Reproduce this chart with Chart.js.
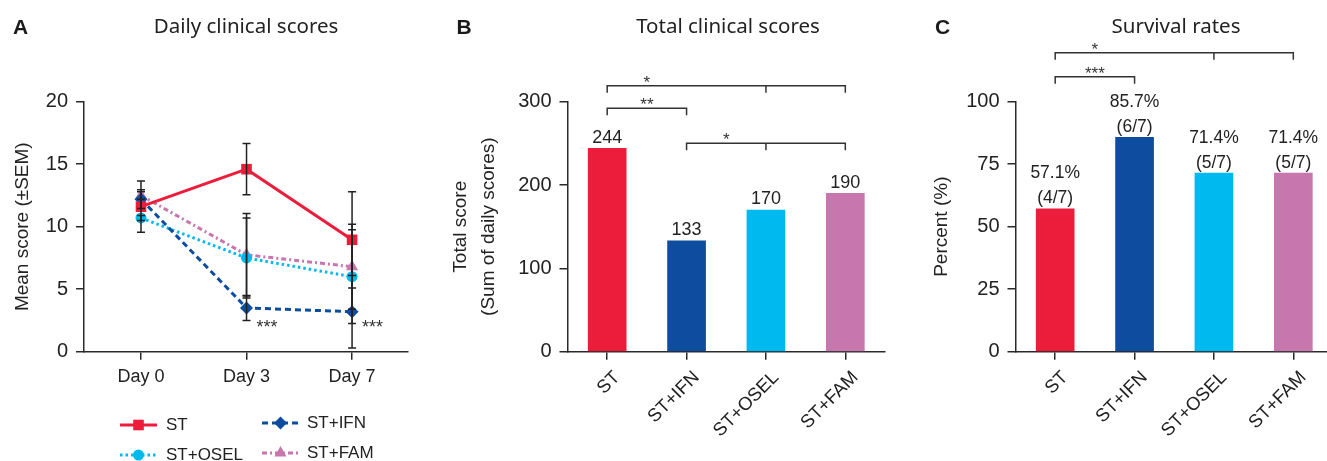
<!DOCTYPE html>
<html><head><meta charset="utf-8">
<script src="https://cdn.jsdelivr.net/npm/chart.js@4.4.1/dist/chart.umd.min.js"></script>
<style>
html,body{margin:0;padding:0;background:#fff;overflow:hidden;width:1327px;height:461px;position:relative;}
canvas{position:absolute;top:0;}
#cA{left:0} #cB{left:440px} #cC{left:890px}
</style></head><body>
<canvas id="cA" width="440" height="461"></canvas>
<canvas id="cB" width="450" height="461"></canvas>
<canvas id="cC" width="445" height="461"></canvas>
<script>
// ---------- data ----------
const days = ['Day 0', 'Day 3', 'Day 7'];
const groups = ['ST', 'ST+IFN', 'ST+OSEL', 'ST+FAM'];
const stMean = [11.6, 14.6, 8.95];
const stSem = [2.05, 2.05, 3.85];
const ifnMean = [12.2, 3.5, 3.2];
const ifnSem = [0.75, 1.0, 2.9];
const oselMean = [10.7, 7.5, 6.0];
const oselSem = [0.2, 3.2, 3.75];
const famMean = [12.5, 7.75, 6.8];
const famSem = [0.3, 3.3, 3.4];
const dailyStars = ['', '***', '***'];
const dailyTicks = [0, 5, 10, 15, 20];
const totalScores = [244, 133, 170, 190];
const totalTicks = [0, 100, 200, 300];
const survivalPct = [57.1, 85.7, 71.4, 71.4];
const survivalFrac = ['(4/7)', '(6/7)', '(5/7)', '(5/7)'];
const survivalTicks = [0, 25, 50, 75, 100];
const totalBrackets = [
  {from: 0, to: 3, mids: [2], y: 319, label: '*'},
  {from: 0, to: 1, mids: [], y: 292, label: '**'},
  {from: 1, to: 3, mids: [2], y: 250, label: '*'}
];
const survivalBrackets = [
  {from: 0, to: 3, mids: [2], y: 119.6, label: '*'},
  {from: 0, to: 1, mids: [], y: 110, label: '***'}
];
const colors = ['#EC1C3B', '#0D4C9F', '#00BAEF', '#C776AE'];

// ---------- styling helpers ----------
const TXT = '#222';
const AX = '#2a2a2a';
const SANS = 'Liberation Sans';

function drawMarker(ctx, style, r, x, y, color) {
  ctx.save();
  ctx.fillStyle = color;
  ctx.beginPath();
  if (style === 'rect') {
    const s = Math.SQRT1_2 * r;
    ctx.rect(x - s, y - s, 2 * s, 2 * s);
  } else if (style === 'rectRot') {
    ctx.moveTo(x, y - r); ctx.lineTo(x + r, y); ctx.lineTo(x, y + r); ctx.lineTo(x - r, y); ctx.closePath();
  } else if (style === 'triangle') {
    ctx.moveTo(x, y - r);
    ctx.lineTo(x + r * Math.sin(2 * Math.PI / 3), y - r * Math.cos(2 * Math.PI / 3));
    ctx.lineTo(x + r * Math.sin(4 * Math.PI / 3), y - r * Math.cos(4 * Math.PI / 3));
    ctx.closePath();
  } else {
    ctx.arc(x, y, r, 0, Math.PI * 2);
  }
  ctx.fill();
  ctx.restore();
}

const headerPlugin = {
  id: 'header',
  afterDraw(chart, args, opts) {
    const ctx = chart.ctx;
    ctx.save();
    ctx.fillStyle = '#1a1a1a';
    ctx.textBaseline = 'alphabetic';
    ctx.textAlign = 'left';
    ctx.font = 'bold 21px "Liberation Sans"';
    ctx.fillText(opts.letter, opts.letterX, 33.5);
    ctx.font = '20.5px "Noto Sans"';
    ctx.textAlign = 'center';
    ctx.fillStyle = '#222';
    ctx.fillText(opts.title, opts.titleX, 33);
    ctx.restore();
  }
};

function yAxis(ticksArr, max, titleText, titleFont, titlePad, width) {
  return {
    min: 0, max: max,
    afterBuildTicks: s => { s.ticks = ticksArr.map(v => ({value: v})); },
    ticks: {color: TXT, font: {family: SANS, size: 20}, padding: 8},
    grid: {drawOnChartArea: false, tickLength: 8, color: AX, lineWidth: 1.5},
    border: {color: AX, width: 1.5},
    title: {display: true, text: titleText, color: TXT, font: titleFont, padding: {top: titlePad, bottom: 0}},
    afterFit: s => { s.width = width; }
  };
}

function xCatAxis() {
  return {
    ticks: {color: TXT, font: {family: SANS, size: 18.5}, minRotation: 45, maxRotation: 45, padding: 7, labelOffset: 10, autoSkip: false},
    grid: {drawOnChartArea: false, tickLength: 8, color: AX, lineWidth: 1.5, offset: false},
    border: {color: AX, width: 1.5},
    afterFit: s => { s.height = 461 - 351.7; }
  };
}

// ---------- Panel A ----------
const lineDefs = [
  {label: 'ST', mean: stMean, sem: stSem, style: 'rect', r: 7.5, dash: []},
  {label: 'ST+IFN', mean: ifnMean, sem: ifnSem, style: 'rectRot', r: 6.5, dash: [6, 4]},
  {label: 'ST+OSEL', mean: oselMean, sem: oselSem, style: 'circle', r: 5.5, dash: [2.5, 3]},
  {label: 'ST+FAM', mean: famMean, sem: famSem, style: 'triangle', r: 7, dash: [5, 3, 2, 3]}
];

const errorBarPlugin = {
  id: 'errorBars',
  afterDatasetsDraw(chart) {
    const ctx = chart.ctx, ys = chart.scales.y;
    ctx.save();
    ctx.strokeStyle = '#222';
    ctx.lineWidth = 1.5;
    chart.data.datasets.forEach((ds, di) => {
      const meta = chart.getDatasetMeta(di);
      meta.data.forEach((pt, i) => {
        const m = ds.data[i].y, s = ds.sem[i];
        const x = pt.x;
        const y1 = ys.getPixelForValue(m + s), y2 = ys.getPixelForValue(m - s);
        ctx.beginPath();
        ctx.moveTo(x, y1); ctx.lineTo(x, y2);
        ctx.moveTo(x - 4, y1); ctx.lineTo(x + 4, y1);
        ctx.moveTo(x - 4, y2); ctx.lineTo(x + 4, y2);
        ctx.stroke();
      });
    });
    // significance stars next to ST+IFN
    const meta = chart.getDatasetMeta(1);
    ctx.fillStyle = '#333';
    ctx.font = '18px "Liberation Sans"';
    ctx.textAlign = 'left';
    ctx.textBaseline = 'alphabetic';
    meta.data.forEach((pt, i) => {
      if (dailyStars[i]) ctx.fillText(dailyStars[i], pt.x + 10, ys.getPixelForValue(0) - 19);
    });
    ctx.restore();
  }
};

const legendPos = [
  {x: 120, y: 425, tx: 166},
  {x: 262, y: 423, tx: 307},
  {x: 120, y: 455, tx: 166},
  {x: 262, y: 453, tx: 307}
];
const lineLegendPlugin = {
  id: 'lineLegend',
  afterDraw(chart) {
    const ctx = chart.ctx;
    ctx.save();
    chart.data.datasets.forEach((ds, i) => {
      const p = legendPos[i];
      ctx.strokeStyle = ds.borderColor;
      ctx.lineWidth = 3;
      ctx.setLineDash(ds.borderDash);
      ctx.beginPath();
      ctx.moveTo(p.x, p.y); ctx.lineTo(p.x + 37, p.y);
      ctx.stroke();
      ctx.setLineDash([]);
      drawMarker(ctx, ds.pointStyle, ds.pointRadius, p.x + 18.5, p.y, ds.backgroundColor);
      ctx.fillStyle = TXT;
      ctx.font = '17px "Liberation Sans"';
      ctx.textAlign = 'left';
      ctx.textBaseline = 'middle';
      ctx.fillText(ds.label, p.tx, p.y);
    });
    ctx.restore();
  }
};

new Chart(document.getElementById('cA'), {
  type: 'line',
  data: {
    datasets: lineDefs.map((d, i) => ({
      label: d.label,
      data: d.mean.map((v, k) => ({x: k, y: v})),
      sem: d.sem,
      borderColor: colors[i],
      backgroundColor: colors[i],
      borderWidth: 3,
      borderDash: d.dash,
      pointStyle: d.style,
      pointRadius: d.r,
      pointBorderWidth: 0,
      pointBackgroundColor: colors[i],
      tension: 0,
      clip: false
    }))
  },
  options: {
    responsive: false, animation: false,
    layout: {padding: {top: 101.7, left: 0, right: 32, bottom: 0}},
    plugins: {
      legend: {display: false}, tooltip: {enabled: false},
      header: {letter: 'A', letterX: 13, title: 'Daily clinical scores', titleX: 246}
    },
    scales: {
      x: {
        type: 'linear', min: -0.54, max: 2.53,
        afterBuildTicks: s => { s.ticks = days.map((d, i) => ({value: i})); },
        ticks: {color: TXT, font: {family: SANS, size: 18}, padding: 7, callback: v => days[v]},
        grid: {drawOnChartArea: false, tickLength: 8, color: AX, lineWidth: 1.5},
        border: {color: AX, width: 1.5},
        afterFit: s => { s.height = 461 - 351.7; }
      },
      y: yAxis(dailyTicks, 20, 'Mean score (±SEM)', {family: SANS, size: 19}, 11, 84)
    }
  },
  plugins: [errorBarPlugin, lineLegendPlugin, headerPlugin]
});

// ---------- bracket / label plugins ----------
function bracketPlugin(brackets) {
  return {
    id: 'brackets',
    afterDraw(chart) {
      const ctx = chart.ctx, xs = chart.scales.x, ys = chart.scales.y;
      ctx.save();
      ctx.strokeStyle = '#333';
      ctx.lineWidth = 1.5;
      ctx.fillStyle = '#333';
      ctx.font = '17px "Liberation Sans"';
      ctx.textAlign = 'center';
      ctx.textBaseline = 'alphabetic';
      brackets.forEach(b => {
        const y = ys.getPixelForValue(b.y);
        const x0 = xs.getPixelForValue(b.from), x1 = xs.getPixelForValue(b.to);
        ctx.beginPath();
        ctx.moveTo(x0, y + 7); ctx.lineTo(x0, y); ctx.lineTo(x1, y); ctx.lineTo(x1, y + 7);
        b.mids.forEach(m => { const xm = xs.getPixelForValue(m); ctx.moveTo(xm, y); ctx.lineTo(xm, y + 7); });
        ctx.stroke();
        const lx = (x0 + xs.getPixelForValue(b.from + 1)) / 2;
        ctx.fillText(b.label, lx, y + 2);
      });
      ctx.restore();
    }
  };
}

const totalLabelPlugin = {
  id: 'totalLabels',
  afterDatasetsDraw(chart) {
    const ctx = chart.ctx;
    ctx.save();
    ctx.fillStyle = TXT;
    ctx.font = '18px "Liberation Sans"';
    ctx.textAlign = 'center';
    ctx.textBaseline = 'alphabetic';
    chart.getDatasetMeta(0).data.forEach((bar, i) => {
      ctx.fillText(String(totalScores[i]), bar.x, bar.y - 5.6);
    });
    ctx.restore();
  }
};

const survivalLabelPlugin = {
  id: 'survivalLabels',
  afterDatasetsDraw(chart) {
    const ctx = chart.ctx;
    ctx.save();
    ctx.fillStyle = TXT;
    ctx.font = '17.5px "Liberation Sans"';
    ctx.textAlign = 'center';
    ctx.textBaseline = 'alphabetic';
    chart.getDatasetMeta(0).data.forEach((bar, i) => {
      ctx.fillText(survivalPct[i].toFixed(1) + '%', bar.x, bar.y - 30.5);
      ctx.fillText(survivalFrac[i], bar.x, bar.y - 5.5);
    });
    ctx.restore();
  }
};

// ---------- Panel B ----------
new Chart(document.getElementById('cB'), {
  type: 'bar',
  data: {
    labels: groups,
    datasets: [{data: totalScores, backgroundColor: colors, barThickness: 38, borderWidth: 0}]
  },
  options: {
    responsive: false, animation: false,
    layout: {padding: {top: 101.7, left: 0, right: 5, bottom: 0}},
    plugins: {
      legend: {display: false}, tooltip: {enabled: false},
      header: {letter: 'B', letterX: 16.5, title: 'Total clinical scores', titleX: 288}
    },
    scales: {
      x: xCatAxis(),
      y: yAxis(totalTicks, 300, ['Total score', '(Sum of daily scores)'], {family: SANS, size: 19, lineHeight: 1.5}, 6.4, 127.5)
    }
  },
  plugins: [totalLabelPlugin, bracketPlugin(totalBrackets), headerPlugin]
});

// ---------- Panel C ----------
new Chart(document.getElementById('cC'), {
  type: 'bar',
  data: {
    labels: groups,
    datasets: [{data: survivalPct, backgroundColor: colors, barThickness: 38, borderWidth: 0}]
  },
  options: {
    responsive: false, animation: false,
    layout: {padding: {top: 101.7, left: 0, right: 2, bottom: 0}},
    plugins: {
      legend: {display: false}, tooltip: {enabled: false},
      header: {letter: 'C', letterX: 45, title: 'Survival rates', titleX: 286}
    },
    scales: {
      x: xCatAxis(),
      y: yAxis(survivalTicks, 100, 'Percent (%)', {family: SANS, size: 19}, 40.3, 125.5)
    }
  },
  plugins: [survivalLabelPlugin, bracketPlugin(survivalBrackets), headerPlugin]
});
</script>
</body></html>
